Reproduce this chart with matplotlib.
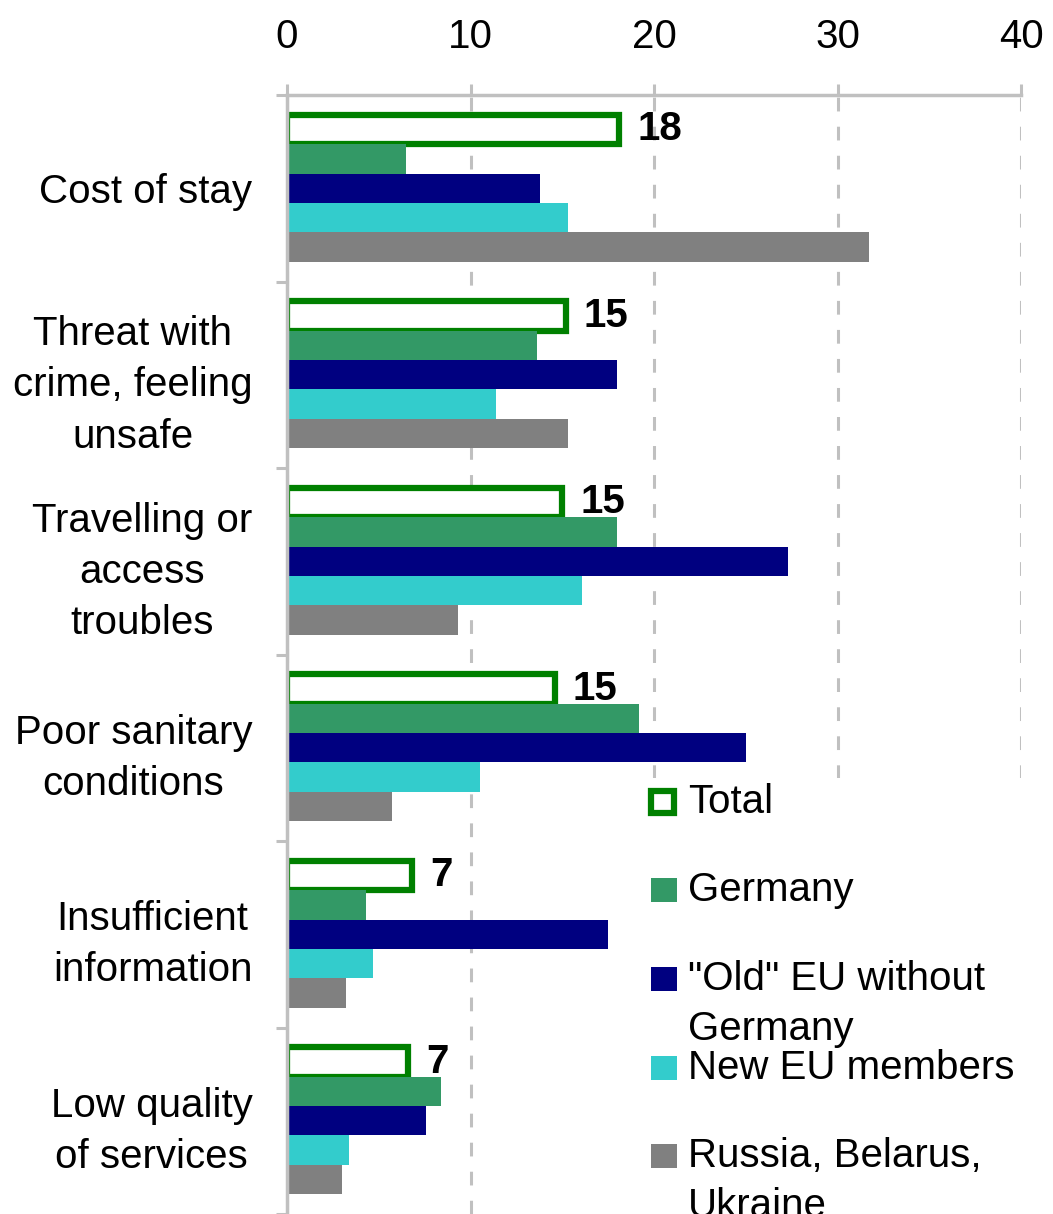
import matplotlib
matplotlib.use('Agg')
import matplotlib.pyplot as plt
from matplotlib.patches import Rectangle
import numpy as np

# ---- data ----
categories = ["Cost of stay",
              "Threat with\ncrime, feeling\nunsafe",
              "Travelling or\naccess\ntroubles",
              "Poor sanitary\nconditions",
              "Insufficient\ninformation",
              "Low quality\nof services"]
series_names = ["Total", "Germany", "\"Old\" EU without\nGermany",
                "New EU members", "Russia, Belarus,\nUkraine"]
total = [18.1, 15.2, 15.0, 14.6, 6.8, 6.6]
germany = [6.5, 13.6, 18.0, 19.2, 4.3, 8.4]
old_eu = [13.8, 18.0, 27.3, 25.0, 17.5, 7.6]
new_eu = [15.3, 11.4, 16.1, 10.5, 4.7, 3.4]
russia = [31.7, 15.3, 9.3, 5.7, 3.2, 3.0]
xticks = [0, 10, 20, 30, 40]
colors = ['#008000', '#339966', '#000080', '#33CCCC', '#808080']

W, H = 1053, 1214
plt.rcParams['font.family'] = ['Liberation Sans', 'DejaVu Sans']
FS = 29
fig = plt.figure(figsize=(W / 100, H / 100), dpi=100)
ax = fig.add_axes([287 / W, 0, (1021 - 287) / W, (1214 - 95) / H])

series = [total, germany, old_eu, new_eu, russia]
n = len(categories)
ypos = np.arange(n)
h = 0.158
for k, vals in enumerate(series):
    y = ypos + (k - 2) * h
    if k == 0:
        ax.barh(y, vals, height=h, color='white', edgecolor=colors[0],
                linewidth=4.5, zorder=3)
        for yy, v in zip(y, vals):
            ax.annotate(str(int(v + 0.5)), xy=(v, yy), xytext=(13, 0),
                        textcoords='offset points', va='center', ha='left',
                        fontsize=FS, fontweight='bold', zorder=4)
    else:
        ax.barh(y, vals, height=h, color=colors[k], linewidth=0, zorder=3)

ax.set_xlim(0, 40)
ax.set_ylim(n - 0.5, -0.5)
ax.xaxis.tick_top()
ax.set_xticks(xticks)
ax.set_xticklabels([str(t) for t in xticks], fontsize=FS)
ax.tick_params(axis='x', which='major', length=8, width=2.2, color='#C0C0C0',
               pad=20, direction='out')
ax.set_yticks(ypos)
ax.set_yticklabels(categories, fontsize=FS)
for t in ax.get_yticklabels():
    t.set_multialignment('center')
    t.set_linespacing(1.44)
ax.set_yticks(np.arange(n + 1) - 0.5, minor=True)
ax.tick_params(axis='y', which='major', length=0, pad=25)
ax.tick_params(axis='y', which='minor', length=8, width=2.2, color='#C0C0C0',
               direction='out')

for s in ['right', 'bottom']:
    ax.spines[s].set_visible(False)
for s in ['top', 'left']:
    ax.spines[s].set_color('#C0C0C0')
    ax.spines[s].set_linewidth(2.5)
    ax.spines[s].set_zorder(5)

ax.set_axisbelow(True)
ax.grid(axis='x', color='#C0C0C0', linewidth=2.2, dashes=(4.5, 5))

# ---- legend (manual, fixed slots) ----
fig.patches.append(Rectangle((640 / W, 0), (W - 640) / W, (1214 - 778) / H,
                             transform=fig.transFigure, facecolor='white',
                             edgecolor='none', zorder=1))
slot_y = [802, 890, 979, 1068, 1156]
for k, (name, yc) in enumerate(zip(series_names, slot_y)):
    if k == 0:
        fig.patches.append(Rectangle((651 / W, 1 - (yc + 11) / H), 23 / W, 22 / H,
                                     transform=fig.transFigure, facecolor='white',
                                     edgecolor=colors[0], linewidth=4.5, zorder=2))
    else:
        fig.patches.append(Rectangle((651 / W, 1 - (yc + 12) / H), 26 / W, 24 / H,
                                     transform=fig.transFigure, facecolor=colors[k],
                                     edgecolor='none', zorder=2))
    for j, line in enumerate(name.split('\n')):
        fig.text(688 / W, 1 - (yc + 50 * j) / H, line, fontsize=FS,
                 va='center', ha='left', zorder=3)

fig.savefig('out.png', dpi=100)
